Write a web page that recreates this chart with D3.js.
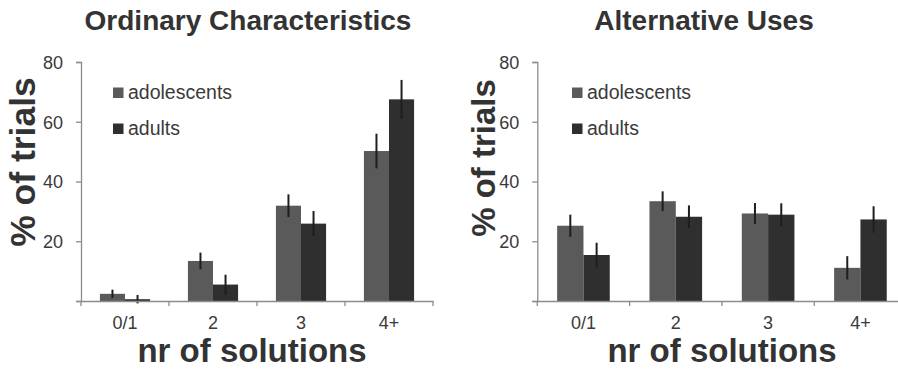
<!DOCTYPE html>
<html>
<head>
<meta charset="utf-8">
<script src="https://cdn.jsdelivr.net/npm/d3@7"></script>
<style>
  html, body { margin: 0; padding: 0; background: #fff; }
  svg { display: block; }
  text { font-family: "Liberation Sans", Arial, sans-serif; }
</style>
</head>
<body>
<svg id="chart" width="898" height="369"></svg>
<script>
const categories = ["0/1", "2", "3", "4+"];
const seriesNames = ["adolescents", "adults"];
const yTicks = [20, 40, 60, 80];

const ordAdolescents = [2.4, 13.4, 31.9, 50.2];
const ordAdolescentsErr = [1.4, 2.8, 3.8, 5.8];
const ordAdults = [0.6, 5.5, 25.9, 67.5];
const ordAdultsErr = [1.4, 3.3, 4.2, 6.5];

const altAdolescents = [25.2, 33.4, 29.3, 11.1];
const altAdolescentsErr = [3.7, 3.3, 3.5, 3.9];
const altAdults = [15.4, 28.2, 28.9, 27.3];
const altAdultsErr = [4.1, 3.8, 3.8, 4.4];

const colors = {adolescents: "#5a5a5a", adults: "#2f2f2f"};
const svg = d3.select("#chart");

const panels = [
  {title: "Ordinary Characteristics", titleX: 248, x0: 81, x1: 433, ylabX: 35, ylabSize: 35.5, ylabY: 162,
   legX: 113, xlabX: 252,
   data: [ordAdolescents, ordAdults], err: [ordAdolescentsErr, ordAdultsErr]},
  {title: "Alternative Uses", titleX: 704, x0: 537.3, x1: 906.6, ylabX: 495, ylabSize: 33, ylabY: 158,
   legX: 572, xlabX: 722,
   data: [altAdolescents, altAdults], err: [altAdolescentsErr, altAdultsErr]}
];

const y = d3.scaleLinear().domain([0, 80]).range([301, 62]);

panels.forEach(p => {
  const g = svg.append("g");
  const x = d3.scaleBand().domain(categories).range([p.x0, p.x1]).padding(0);
  const bw = x.bandwidth();
  const xs = d3.scaleBand().domain(seriesNames).range([0.215 * bw, 0.785 * bw]).padding(0);

  // bars
  seriesNames.forEach((s, si) => {
    const vals = p.data[si];
    g.selectAll(null).data(categories).enter().append("rect")
      .attr("x", c => x(c) + xs(s))
      .attr("y", (c, i) => y(vals[i]))
      .attr("width", xs.bandwidth())
      .attr("height", (c, i) => y(0) - y(vals[i]))
      .attr("fill", colors[s]);
  });
  // error bars
  seriesNames.forEach((s, si) => {
    const vals = p.data[si], errs = p.err[si];
    g.selectAll(null).data(categories).enter().append("line")
      .attr("x1", c => x(c) + xs(s) + xs.bandwidth() / 2)
      .attr("x2", c => x(c) + xs(s) + xs.bandwidth() / 2)
      .attr("y1", (c, i) => y(vals[i] + errs[i]))
      .attr("y2", (c, i) => y(vals[i] - errs[i]))
      .attr("stroke", "#1e1e1e")
      .attr("stroke-width", 2);
  });

  // y axis
  const yAxis = d3.axisLeft(y).tickValues([0].concat(yTicks)).tickSize(5).tickFormat(d => d === 0 ? "" : d);
  const ya = g.append("g").attr("transform", `translate(${p.x0},0)`).call(yAxis);
  ya.select(".domain").attr("stroke", "#8c8c8c").attr("stroke-width", 1.3);
  ya.selectAll(".tick line").attr("stroke", "#8c8c8c").attr("stroke-width", 1.3);
  ya.selectAll(".tick text").attr("x", -18).attr("dy", "0.36em")
    .attr("font-size", 18).attr("fill", "#3a3a3a").style("font-family", "Liberation Sans, Arial, sans-serif");

  // x axis
  const xAxis = d3.axisBottom(x).tickSize(0);
  const xa = g.append("g").attr("transform", `translate(0,${y(0)})`).call(xAxis);
  xa.select(".domain").attr("stroke", "#8c8c8c").attr("stroke-width", 1.3);
  xa.selectAll(".tick text").attr("y", 28).attr("dy", 0)
    .attr("font-size", 18).attr("fill", "#3a3a3a").style("font-family", "Liberation Sans, Arial, sans-serif");
  // category boundary ticks
  const bounds = categories.map(c => x(c)).concat([p.x1]);
  g.selectAll(null).data(bounds).enter().append("line")
    .attr("x1", d => d).attr("x2", d => d)
    .attr("y1", y(0)).attr("y2", y(0) + 5)
    .attr("stroke", "#8c8c8c").attr("stroke-width", 1.3);

  // title
  g.append("text").attr("x", p.titleX).attr("y", 30).attr("text-anchor", "middle")
    .attr("font-size", 28).attr("font-weight", "bold").attr("fill", "#333")
    .text(p.title);

  // y label
  g.append("text").attr("transform", `translate(${p.ylabX},${p.ylabY}) rotate(-90)`)
    .attr("text-anchor", "middle").attr("font-size", p.ylabSize).attr("font-weight", "bold")
    .attr("fill", "#333").text("% of trials");

  // x label
  g.append("text").attr("x", p.xlabX).attr("y", 362).attr("text-anchor", "middle")
    .attr("font-size", 33).attr("font-weight", "bold").attr("fill", "#333")
    .text("nr of solutions");

  // legend
  seriesNames.forEach((s, si) => {
    const ly = 99 + si * 36;
    g.append("rect").attr("x", p.legX).attr("y", ly - 11.5).attr("width", 10.5).attr("height", 10.5)
      .attr("fill", colors[s]);
    g.append("text").attr("x", p.legX + 15).attr("y", ly).attr("font-size", 19.5)
      .attr("fill", "#3a3a3a").text(s);
  });
});
</script>
</body>
</html>
